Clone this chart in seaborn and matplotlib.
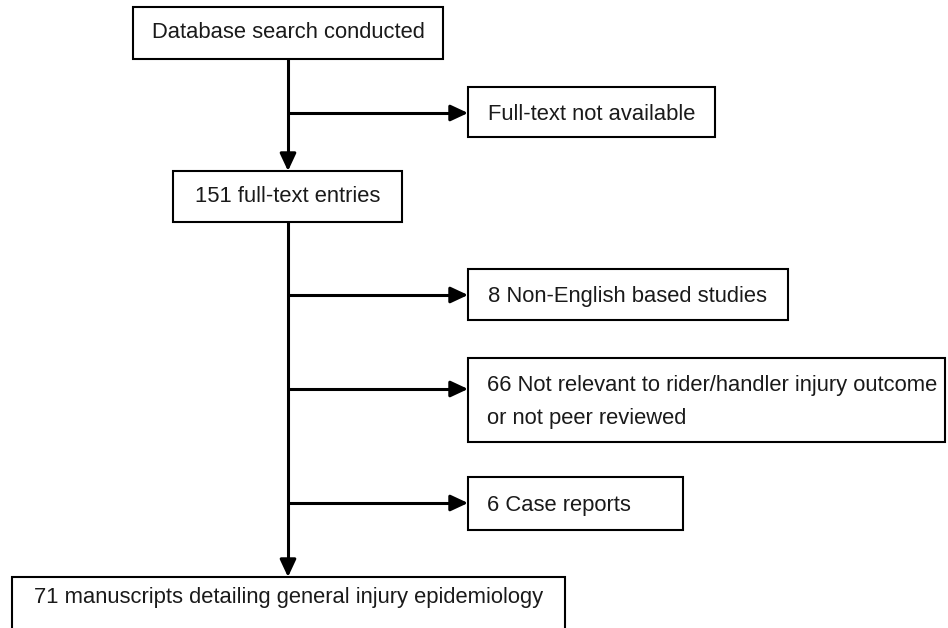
import matplotlib
matplotlib.use("Agg")
import matplotlib.pyplot as plt
import seaborn as sns
from matplotlib.patches import Rectangle, FancyArrowPatch

sns.set_theme(style="white")
plt.rcParams['font.family'] = ['Liberation Sans', 'DejaVu Sans']

# ---- content ----
main_labels = ["Database search conducted", "151 full-text entries",
               "71 manuscripts detailing general injury epidemiology"]
side_labels = ["Full-text not available", "8 Non-English based studies",
               "66 Not relevant to rider/handler injury outcome\nor not peer reviewed",
               "6 Case reports"]

# ---- layout (pixels, y downwards) ----
main_boxes = [(133, 7, 443, 59), (173, 171, 402, 222), (12, 577, 565, 640)]
main_text_y = [33, 196, 597]
side_boxes = [(468, 87, 715, 137), (468, 269, 788, 320),
              (468, 358, 945, 442), (468, 477, 683, 530)]
side_arrow_y = [113, 295, 389, 503]
side_align = ["center", "center", "left", "left"]
spine_x = 288

fig = plt.figure(figsize=(9.48, 6.28), dpi=100)
ax = fig.add_axes([0, 0, 1, 1])
ax.set_xlim(0, 948)
ax.set_ylim(628, 0)
ax.axis("off")

lw_box = 1.5
lw_line = 2.2
fs = 15.8
tc = "#1a1a1a"

def box(x0, y0, x1, y1):
    ax.add_patch(Rectangle((x0, y0), x1 - x0, y1 - y0, fill=True,
                           facecolor="white", edgecolor="black", lw=lw_box, zorder=3))

def arrow(p0, p1):
    ax.add_patch(FancyArrowPatch(p0, p1, arrowstyle="-|>,head_length=0.75,head_width=0.35",
                                 mutation_scale=14, lw=lw_line, color="black",
                                 shrinkA=0, shrinkB=0, zorder=2))

for (x0, y0, x1, y1), lab, ty in zip(main_boxes, main_labels, main_text_y):
    box(x0, y0, x1, y1)
    ax.text((x0 + x1) / 2, ty, lab, ha="center", va="center", fontsize=fs, color=tc, zorder=4)

for (x0, y0, x1, y1), lab, ay, al in zip(side_boxes, side_labels, side_arrow_y, side_align):
    box(x0, y0, x1, y1)
    tx = (x0 + x1) / 2 if al == "center" else x0 + 19
    ax.text(tx, (y0 + y1) / 2 + 2, lab, ha=al, va="center", fontsize=fs, color=tc,
            linespacing=1.75, zorder=4)
    ax.plot([spine_x, x0 - 12], [ay, ay], color="black", lw=lw_line, solid_capstyle="butt", zorder=2)
    arrow((x0 - 14, ay), (x0, ay))

# spine segments
ax.plot([spine_x, spine_x], [main_boxes[0][3], main_boxes[1][1] - 12], color="black", lw=lw_line, zorder=2)
arrow((spine_x, main_boxes[1][1] - 14), (spine_x, main_boxes[1][1]))
ax.plot([spine_x, spine_x], [main_boxes[1][3], main_boxes[2][1] - 12], color="black", lw=lw_line, zorder=2)
arrow((spine_x, main_boxes[2][1] - 14), (spine_x, main_boxes[2][1]))

fig.savefig("out.png", dpi=100, facecolor="white")
